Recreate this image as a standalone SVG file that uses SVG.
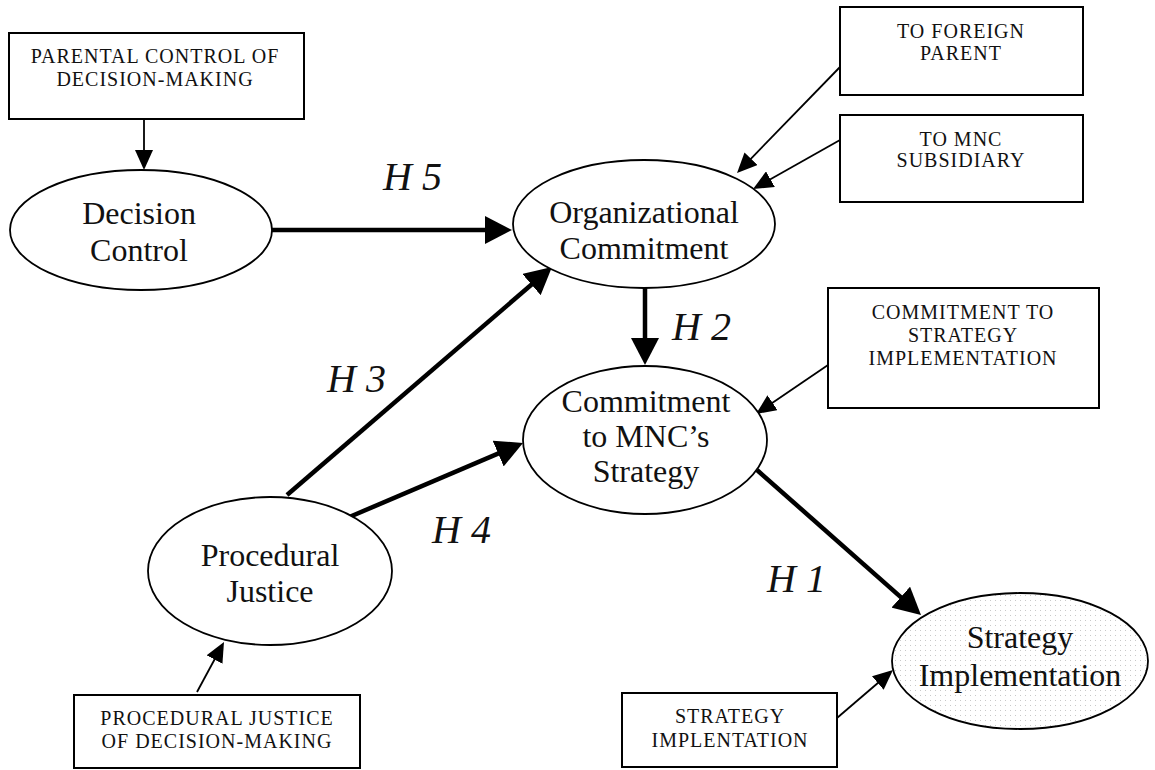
<svg xmlns="http://www.w3.org/2000/svg" width="1155" height="770" viewBox="0 0 1155 770">
<style>
.box{fill:#fff;stroke:#000;stroke-width:2}
.ell{fill:#fff;stroke:#000;stroke-width:1.8}
.btxt{font-family:"Liberation Serif","Times New Roman",serif;font-size:20px;letter-spacing:1px;text-anchor:middle;fill:#111}
.etxt{font-family:"Liberation Serif","Times New Roman",serif;font-size:32px;text-anchor:middle;fill:#111}
.htxt{font-family:"Liberation Serif","Times New Roman",serif;font-size:40px;font-style:italic;fill:#111}
.thick{stroke:#000;stroke-width:4.5;fill:none;marker-end:url(#big)}
.thin{stroke:#000;stroke-width:1.8;fill:none;marker-end:url(#small)}
</style>
<defs>
<marker id="big" markerUnits="userSpaceOnUse" markerWidth="28" markerHeight="28" refX="17" refY="14" orient="auto"><path d="M0,0 L27,14 L0,28 z" fill="#000"/></marker>
<marker id="small" markerUnits="userSpaceOnUse" markerWidth="20" markerHeight="18" refX="12" refY="9" orient="auto"><path d="M0,0 L20,9 L0,18 z" fill="#000"/></marker>
<pattern id="dots" width="5" height="5" patternUnits="userSpaceOnUse"><rect width="5" height="5" fill="#fff"/><rect x="0" y="0" width="1" height="1" fill="#c8c8c8"/></pattern>
</defs>
<rect width="1155" height="770" fill="#fff"/>

<g id="connectors">
<line class="thin" x1="144" y1="119" x2="144" y2="162"/>
<line class="thick" x1="272" y1="230" x2="502" y2="230"/>
<line class="thin" x1="840" y1="67" x2="742.6" y2="167.3"/>
<line class="thin" x1="840" y1="140" x2="760" y2="185.1"/>
<line class="thick" x1="645" y1="288" x2="645" y2="355"/>
<line class="thick" x1="287" y1="495" x2="544.4" y2="273.5"/>
<line class="thick" x1="347" y1="518" x2="513.8" y2="446.9"/>
<line class="thin" x1="828" y1="365" x2="762.6" y2="409.5"/>
<line class="thick" x1="757" y1="470" x2="913.5" y2="608.4"/>
<line class="thin" x1="837" y1="718" x2="886.9" y2="675.2"/>
<line class="thin" x1="197" y1="692" x2="220.2" y2="649"/>
</g>

<g id="labels">
<text class="htxt" x="383" y="190">H 5</text>
<text class="htxt" x="672" y="340">H 2</text>
<text class="htxt" x="327" y="392">H 3</text>
<text class="htxt" x="432" y="543">H 4</text>
<text class="htxt" x="767" y="592">H 1</text>
</g>

<g id="parental-control">
<rect class="box" x="9" y="33" width="295" height="86"/>
<text class="btxt" x="155" y="63">PARENTAL CONTROL OF</text>
<text class="btxt" x="155" y="86">DECISION-MAKING</text>
</g>

<g id="decision-control">
<ellipse class="ell" cx="141" cy="230" rx="131" ry="60"/>
<text class="etxt" x="139" y="224">Decision</text>
<text class="etxt" x="139" y="261">Control</text>
</g>

<g id="to-foreign-parent">
<rect class="box" x="840" y="7" width="243" height="88"/>
<text class="btxt" x="961" y="38">TO FOREIGN</text>
<text class="btxt" x="961" y="60">PARENT</text>
</g>

<g id="to-mnc-subsidiary">
<rect class="box" x="840" y="115" width="243" height="87"/>
<text class="btxt" x="961" y="146">TO MNC</text>
<text class="btxt" x="961" y="167">SUBSIDIARY</text>
</g>

<g id="organizational-commitment">
<ellipse class="ell" cx="644" cy="224" rx="131" ry="64"/>
<text class="etxt" x="644" y="223">Organizational</text>
<text class="etxt" x="644" y="259">Commitment</text>
</g>

<g id="commitment-to-strategy-impl">
<rect class="box" x="828" y="288" width="271" height="120"/>
<text class="btxt" x="963" y="319">COMMITMENT TO</text>
<text class="btxt" x="963" y="342">STRATEGY</text>
<text class="btxt" x="963" y="365">IMPLEMENTATION</text>
</g>

<g id="commitment-mnc-strategy">
<ellipse class="ell" cx="645" cy="440" rx="122" ry="74"/>
<text class="etxt" x="646" y="412">Commitment</text>
<text class="etxt" x="646" y="447">to MNC’s</text>
<text class="etxt" x="646" y="482">Strategy</text>
</g>

<g id="procedural-justice">
<ellipse class="ell" cx="270" cy="571" rx="122" ry="74"/>
<text class="etxt" x="270" y="566">Procedural</text>
<text class="etxt" x="270" y="602">Justice</text>
</g>

<g id="procedural-justice-box">
<rect class="box" x="74" y="695" width="286" height="73"/>
<text class="btxt" x="217" y="725">PROCEDURAL JUSTICE</text>
<text class="btxt" x="217" y="748">OF DECISION-MAKING</text>
</g>

<g id="strategy-implementation">
<ellipse cx="1020" cy="661" rx="128" ry="68" fill="url(#dots)" stroke="#000" stroke-width="1.8"/>
<text class="etxt" x="1020" y="648">Strategy</text>
<text class="etxt" x="1020" y="686">Implementation</text>
</g>

<g id="strategy-implentation-box">
<rect class="box" x="622" y="693" width="215" height="74"/>
<text class="btxt" x="730" y="723">STRATEGY</text>
<text class="btxt" x="730" y="747">IMPLENTATION</text>
</g>
</svg>
